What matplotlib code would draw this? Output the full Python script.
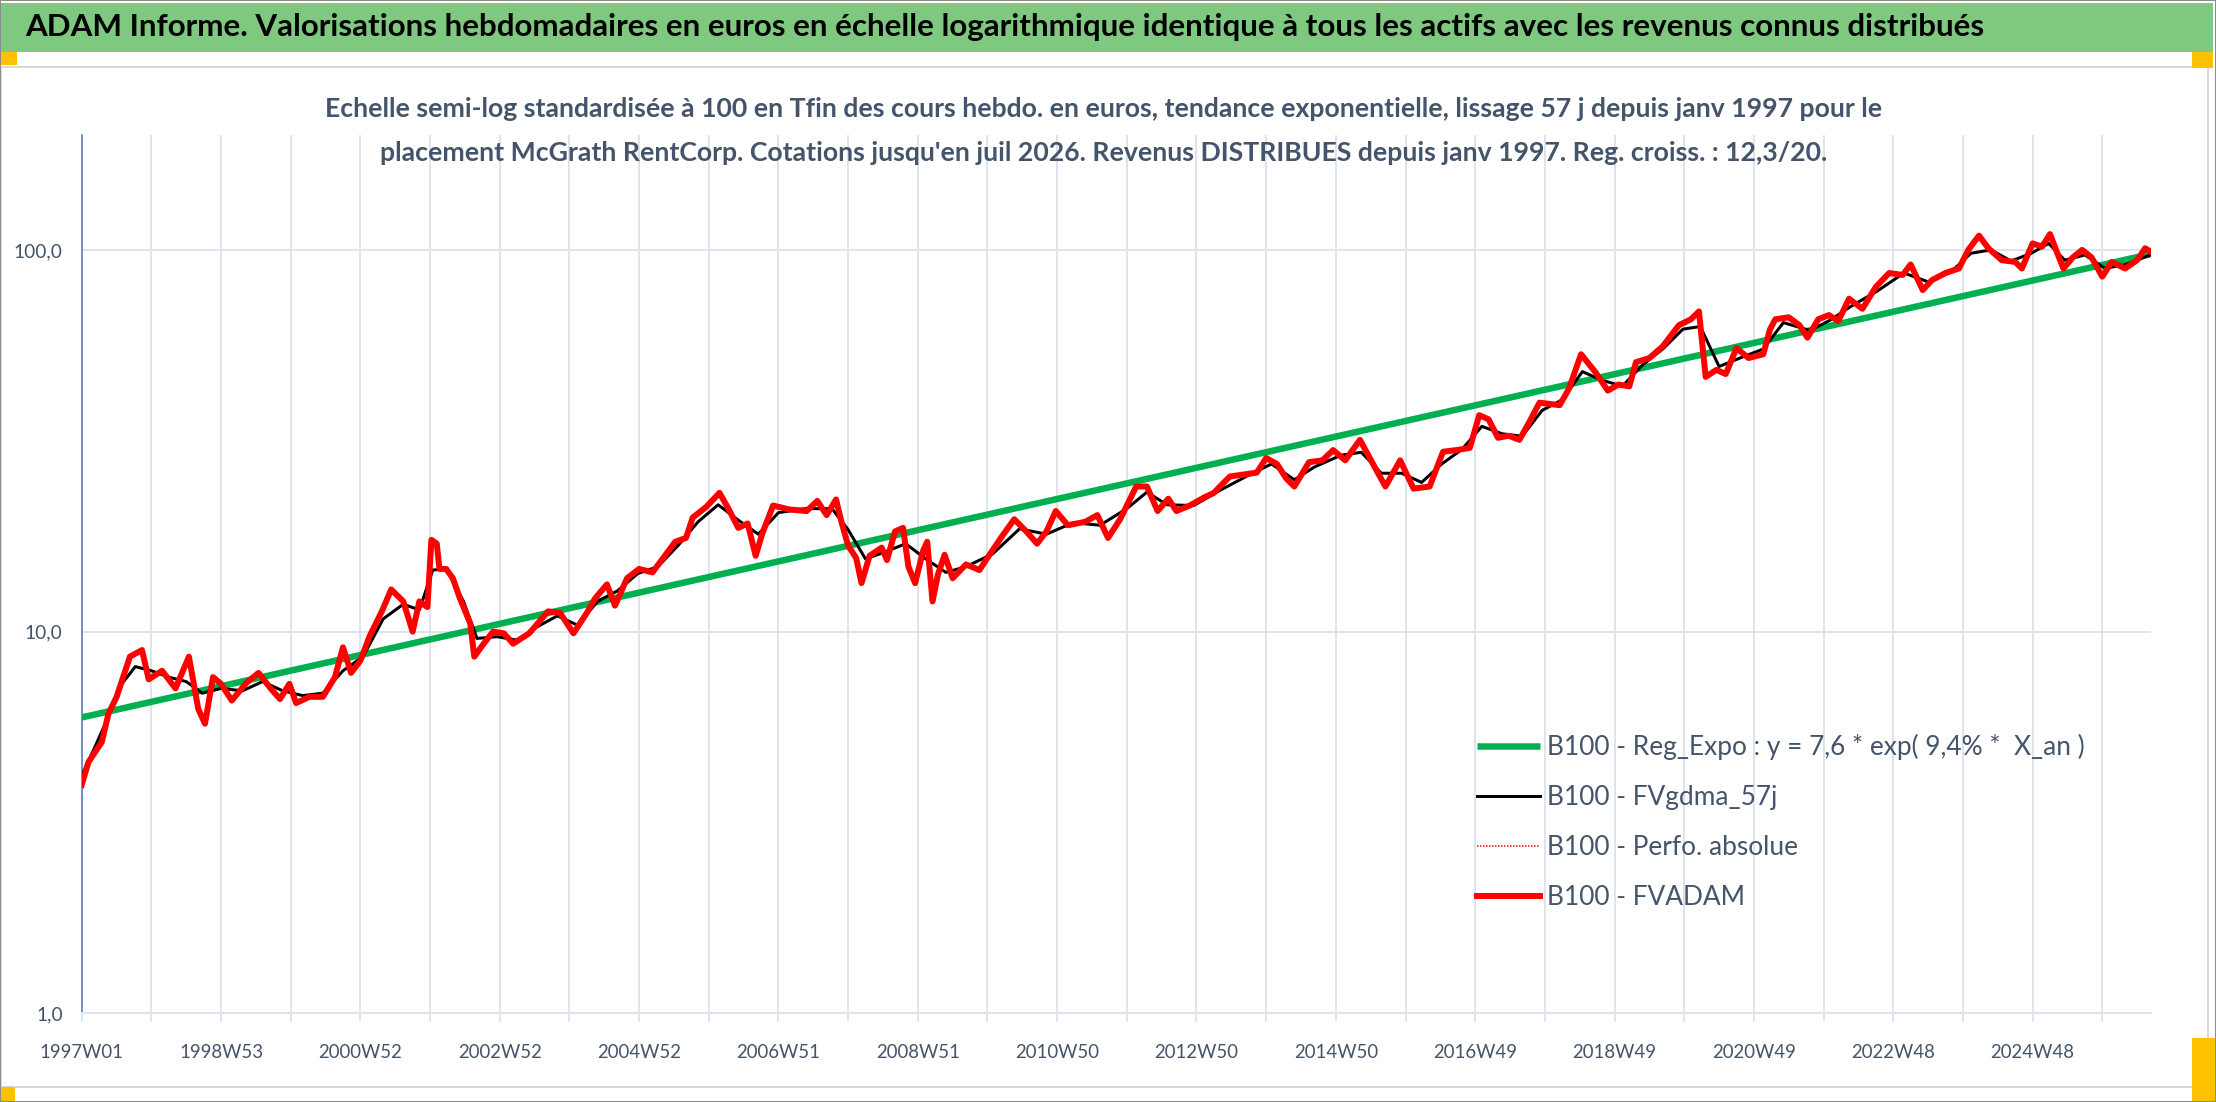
import matplotlib
matplotlib.use("Agg")
import matplotlib.pyplot as plt
from matplotlib import font_manager
from matplotlib.font_manager import FontProperties
from matplotlib.patches import Rectangle
from matplotlib.ticker import FixedLocator, NullLocator

W, H = 2216, 1102

# --- data (week index since 1997W01, base 100 values) ---
red_weeks = [0, 5, 15, 20, 26, 31, 36, 45, 50, 60, 70, 80, 87, 92, 98, 104, 112, 123,
             132, 141, 148, 155, 160, 170, 180, 189, 195, 201, 208, 215, 224, 231, 240,
             247, 252, 258, 261, 265, 267, 272, 277, 282, 290, 293, 300, 307, 315, 322,
             334, 348, 357, 367, 377, 383, 392, 398, 407, 416, 426, 434, 443, 451, 456,
             466, 476, 483, 490, 497, 503, 508, 516, 528, 541, 549, 556, 563, 567, 572,
             578, 582, 588, 597, 601, 607, 613, 617, 622, 628, 631, 635, 639, 644, 650,
             660, 670, 677, 686, 696, 705, 713, 720, 727, 736, 749, 758, 766, 775, 787,
             795, 803, 811, 817, 827, 838, 845, 851, 857, 867, 877, 884, 892, 899, 905,
             916, 926, 934, 943, 954, 963, 973, 984, 994, 1006, 1016, 1026, 1036, 1043,
             1050, 1057, 1065, 1073, 1080, 1088, 1103, 1110, 1119, 1130, 1139, 1147, 1155,
             1160, 1170, 1180, 1192, 1201, 1207, 1212, 1220, 1227, 1235, 1244, 1255, 1260,
             1264, 1274, 1282, 1288, 1296, 1304, 1311, 1319, 1329, 1339, 1349, 1359, 1365,
             1374, 1381, 1391, 1401, 1408, 1416, 1423, 1433, 1443, 1448, 1456, 1463, 1469,
             1474, 1479, 1486, 1493, 1500, 1508, 1515, 1525, 1534, 1540, 1544]
red_values = [3.97, 4.55, 5.14, 6.1, 6.74, 7.62, 8.6, 8.95, 7.5, 7.9, 7.1, 8.6, 6.27, 5.74,
              7.6, 7.3, 6.6, 7.35, 7.8, 7.1, 6.66, 7.3, 6.5, 6.75, 6.75, 7.6, 9.1, 7.8, 8.4,
              9.75, 11.3, 12.9, 12.0, 10.0, 12.0, 11.6, 17.4, 17.0, 14.6, 14.6, 13.8, 12.3,
              10.5, 8.6, 9.3, 10.0, 9.9, 9.3, 9.9, 11.3, 11.2, 9.9, 11.2, 12.2, 13.3, 11.7,
              13.8, 14.6, 14.3, 15.6, 17.2, 17.6, 19.9, 21.2, 23.1, 20.9, 18.7, 19.2, 15.8,
              18.1, 21.4, 20.9, 20.7, 22.0, 20.2, 22.2, 19.4, 16.8, 15.6, 13.4, 15.8, 16.6,
              15.4, 18.3, 18.7, 14.8, 13.4, 16.3, 17.2, 12.0, 14.1, 15.9, 13.8, 15.0, 14.5,
              15.8, 17.6, 19.7, 18.3, 17.0, 18.3, 20.7, 19.0, 19.4, 20.2, 17.6, 19.7, 24.0,
              24.0, 20.7, 22.3, 20.7, 21.4, 22.5, 23.1, 24.3, 25.5, 25.8, 26.1, 28.5, 27.5,
              25.2, 24.0, 27.8, 28.1, 29.9, 28.1, 31.8, 27.8, 24.0, 28.1, 23.7, 24.0, 29.6,
              29.9, 30.3, 36.9, 36.0, 32.2, 32.6, 31.8, 35.2, 39.8, 39.2, 43.3, 53.3, 47.7,
              42.8, 44.4, 43.9, 50.8, 52.1, 55.9, 63.5, 65.8, 69.0, 46.5, 48.5, 47.3, 55.3,
              52.1, 53.3, 61.9, 65.8, 66.6, 63.5, 58.9, 65.8, 67.5, 65.1, 74.5, 70.1, 80.0,
              87.0, 86.0, 91.6, 78.5, 83.4, 87.0, 89.4, 100.0, 109.0, 101.0, 94.0, 93.0, 89.4,
              104.0, 102.0, 110.0, 99.0, 89.4, 95.6, 100.0, 95.6, 85.1, 93.0, 89.4, 94.0,
              101.0, 99.0]

black_weeks = [0, 10, 20, 30, 40, 52, 65, 78, 90, 104, 120, 135, 150, 165, 180, 195, 210,
               225, 240, 252, 262, 272, 285, 295, 310, 325, 340, 355, 370, 385, 400, 415,
               430, 445, 460, 475, 490, 505, 520, 540, 560, 572, 585, 600, 615, 630, 645,
               660, 680, 700, 720, 740, 760, 780, 795, 810, 830, 850, 870, 888, 905, 920,
               940, 955, 970, 985, 1000, 1015, 1030, 1045, 1060, 1075, 1090, 1105, 1120,
               1135, 1150, 1165, 1180, 1195, 1208, 1222, 1240, 1255, 1270, 1290, 1305, 1320,
               1340, 1360, 1378, 1395, 1410, 1425, 1440, 1455, 1468, 1480, 1495, 1510, 1525,
               1544]
black_values = [4.2, 5.0, 6.0, 7.3, 8.1, 7.9, 7.6, 7.4, 6.9, 7.1, 7.0, 7.4, 7.0, 6.8, 6.9,
                7.9, 8.6, 10.8, 11.8, 11.4, 14.5, 14.6, 12.0, 9.6, 9.7, 9.5, 10.3, 11.0, 10.4,
                12.0, 12.8, 14.2, 14.8, 16.8, 19.4, 21.5, 19.6, 18.0, 20.5, 21.0, 21.0, 18.5,
                15.5, 16.2, 17.0, 15.5, 14.3, 14.8, 16.0, 18.6, 18.0, 19.3, 19.0, 21.0, 23.2,
                21.5, 21.4, 23.5, 25.6, 27.5, 25.0, 27.0, 29.0, 29.5, 26.0, 26.0, 24.6, 27.5,
                30.0, 34.5, 33.0, 32.5, 38.0, 40.5, 48.0, 45.5, 44.0, 50.0, 55.0, 62.0, 63.0,
                49.5, 52.5, 55.0, 64.5, 61.5, 65.5, 71.0, 78.0, 87.0, 82.5, 87.5, 98.0, 100.0,
                93.5, 98.0, 104.0, 94.0, 97.0, 89.5, 91.5, 97.0]

# exponential trend, drawn as a straight line on the log axis
trend_weeks = [0, 1544]
trend_values = [5.96, 97.5]

tick_labels = ["1997W01", "1998W53", "2000W52", "2002W52", "2004W52", "2006W51",
               "2008W51", "2010W50", "2012W50", "2014W50", "2016W49", "2018W49",
               "2020W49", "2022W48", "2024W48"]
y_ticks = [1, 10, 100]
y_tick_labels = ["1,0", "10,0", "100,0"]

legend_labels = ["B100 - Reg_Expo : y = 7,6 * exp( 9,4% *  X_an )",
                 "B100 - FVgdma_57j",
                 "B100 - Perfo. absolue",
                 "B100 - FVADAM"]

title = ("ADAM Informe. Valorisations hebdomadaires en euros en échelle logarithmique "
         "identique à tous les actifs avec les revenus connus distribués")
subtitle = ["Echelle semi-log standardisée à 100 en Tfin des cours hebdo. en euros, "
            "tendance exponentielle, lissage 57 j depuis janv 1997 pour le",
            "placement McGrath RentCorp. Cotations jusqu'en juil 2026. Revenus "
            "DISTRIBUES depuis janv 1997. Reg. croiss. : 12,3/20."]


def pick_family(names):
    for name in names:
        try:
            font_manager.findfont(FontProperties(family=name), fallback_to_default=False)
            return name
        except ValueError:
            continue
    return "DejaVu Sans"


FONT = pick_family(["Liberation Sans Narrow", "Lato", "Roboto", "DejaVu Sans"])
plt.rcParams["font.family"] = [FONT, "DejaVu Sans"]

TEXT = "#44546A"
GRID = "#DFE3EB"
GREEN = "#00B050"
RED = "#FF0000"


def px(v):
    # pixels -> points at dpi 100
    return v * 72 / 100


def fx(x):
    return x / W


def fy(y):
    return 1 - y / H


fig = plt.figure(figsize=(W / 100, H / 100), dpi=100)
renderer = fig.canvas.get_renderer()


def fit_width(txt, target):
    w = txt.get_window_extent(renderer).width
    txt.set_fontsize(txt.get_fontsize() * target / w)
    return txt.get_fontsize()


def center_y(txt):
    bb = txt.get_window_extent(renderer)
    return H - (bb.y0 + bb.y1) / 2


# frame pieces
fig.add_artist(Rectangle((fx(1), fy(1087)), fx(2207), 1020 / H, transform=fig.transFigure,
                         facecolor="white", edgecolor="#D9D9D9", lw=px(2), zorder=0))
fig.add_artist(Rectangle((0, fy(52)), fx(2213), 49 / H, transform=fig.transFigure,
                         facecolor="#7EC97F", edgecolor="none", zorder=1))
for (x0, y0, w, h) in [(0, 52, 17, 13), (2192, 52, 21, 16), (0, 1087, 15, 15),
                       (2192, 1038, 24, 64)]:
    fig.add_artist(Rectangle((fx(x0), fy(y0 + h)), fx(w), h / H, transform=fig.transFigure,
                             facecolor="#FFC000", edgecolor="none", zorder=2))
fig.add_artist(Rectangle((0, 0), 1, 1, transform=fig.transFigure, fill=False,
                         edgecolor="#8C8C8C", lw=px(2), zorder=3))

# title + subtitle
t = fig.text(fx(25), fy(27), title, ha="left", va="center", weight="bold",
             color="black", fontsize=20)
fit_width(t, 1963)
s1 = fig.text(fx(1104), fy(109), subtitle[0], ha="center", va="center", weight="bold",
              color=TEXT, fontsize=16)
fs_sub = fit_width(s1, 1565)
fig.text(fx(1104), fy(153), subtitle[1], ha="center", va="center", weight="bold",
         color=TEXT, fontsize=fs_sub)

# axes
ax = fig.add_axes([fx(81.7), fy(1013.4), (2150.5 - 81.7) / W, (1013.4 - 135) / H])
ax.set_yscale("log")

ax.plot(trend_weeks, trend_values, color=GREEN, lw=px(6.5), solid_capstyle="butt",
        label=legend_labels[0], zorder=3)
ax.plot(black_weeks, black_values, color="black", lw=px(3), label=legend_labels[1],
        zorder=4)
ax.plot(red_weeks, red_values, color=RED, lw=px(1.5), ls=(0, (1, 1)),
        label=legend_labels[2], zorder=4)
ax.plot(red_weeks, red_values, color=RED, lw=px(6), solid_joinstyle="round",
        label=legend_labels[3], zorder=5)

ax.set_xlim(0, 1544)
ax.set_ylim(1, 200)

grid_weeks = list(range(0, 1545, 52))
ax.xaxis.set_major_locator(FixedLocator(grid_weeks))
ax.set_xticklabels([tick_labels[i // 2] if i % 2 == 0 else "" for i in range(len(grid_weeks))])
ax.yaxis.set_major_locator(FixedLocator(y_ticks))
ax.yaxis.set_minor_locator(NullLocator())
ax.set_yticklabels(y_tick_labels)

ax.grid(True, which="major", color=GRID, lw=px(2))
ax.set_axisbelow(True)
ax.tick_params(axis="x", length=px(9), width=px(2), color=GRID, pad=px(12),
               labelcolor=TEXT)
ax.tick_params(axis="y", length=0, pad=px(19), labelcolor=TEXT)

for side in ["top", "right"]:
    ax.spines[side].set_visible(False)
ax.spines["left"].set_color("#4472C4")
ax.spines["left"].set_linewidth(px(1.5))
ax.spines["bottom"].set_color(GRID)
ax.spines["bottom"].set_linewidth(px(2))

# tick label sizes fitted to the reference widths
probe = fig.text(0, 0, "1997W01", fontsize=14)
fs_x = fit_width(probe, 84)
probe.set_text("100,0")
probe.set_fontsize(14)
fs_y = fit_width(probe, 49)
probe.remove()
for lab in ax.get_xticklabels():
    lab.set_fontsize(fs_x)
for lab in ax.get_yticklabels():
    lab.set_fontsize(fs_y)

# shift x labels so their centre sits where the reference has them
fig.canvas.draw()
xl = ax.get_xticklabels()[0]
shift = 1053 - center_y(xl)
ax.tick_params(axis="x", pad=px(12 + shift))

# legend, spacing tuned to the reference rows
probe = fig.text(0, 0, legend_labels[0], fontsize=14)
fs_leg = fit_width(probe, 540)
probe.remove()
fs_leg_px = fs_leg * 100 / 72
handles, labels = ax.get_legend_handles_labels()
spacing = 0.8
top = 729.0
for _ in range(3):
    leg = ax.legend(handles, labels, loc="upper left", bbox_to_anchor=(fx(1477), fy(top)),
                    bbox_transform=fig.transFigure, frameon=False, fontsize=fs_leg,
                    handlelength=63 / fs_leg_px, handletextpad=7 / fs_leg_px,
                    labelspacing=spacing, borderpad=0, borderaxespad=0)
    fig.canvas.draw()
    rows = [center_y(tx) for tx in leg.get_texts()]
    pitch = (rows[-1] - rows[0]) / 3
    spacing += (50.3 - pitch) / fs_leg_px
    top += 747 - rows[0]
for txt in leg.get_texts():
    txt.set_color(TEXT)

fig.savefig("out.png", dpi=100)
